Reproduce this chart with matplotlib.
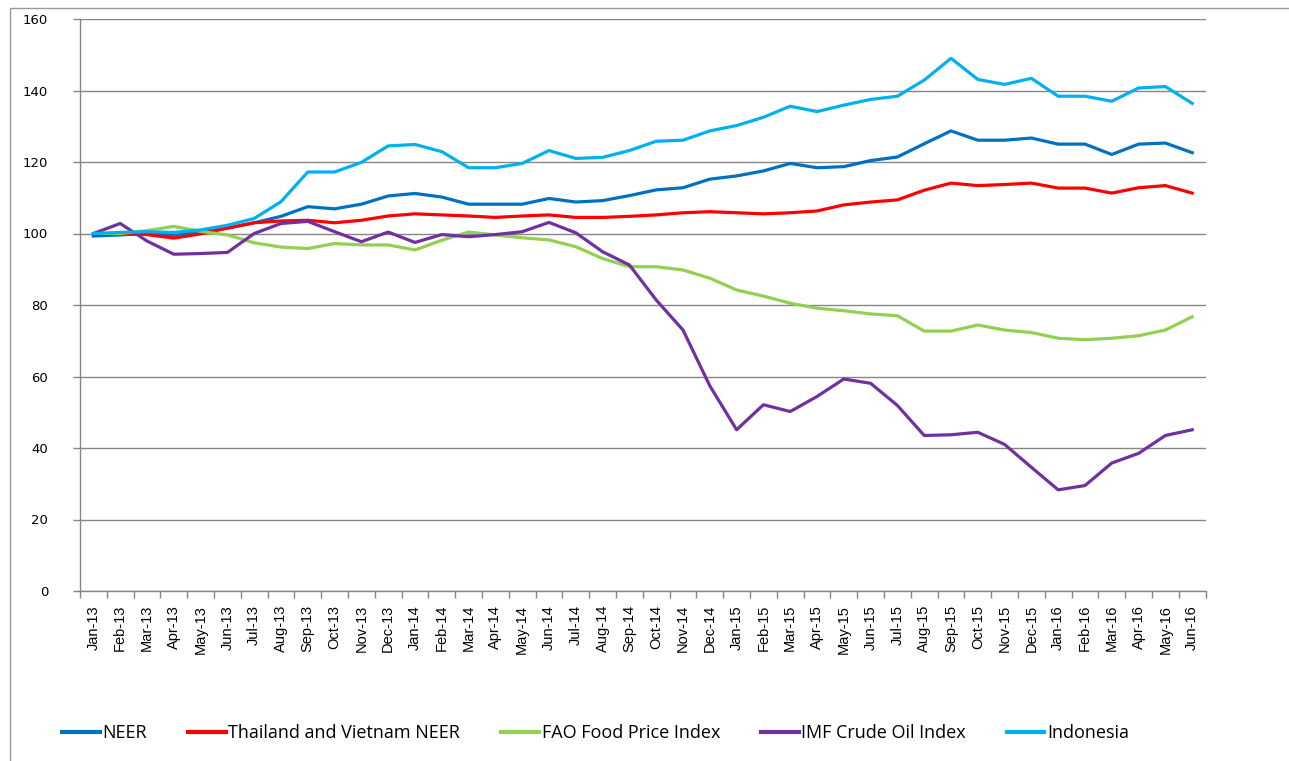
import matplotlib
matplotlib.use("Agg")
import matplotlib.pyplot as plt
from matplotlib.patches import Rectangle
import numpy as np

months = ["Jan-13", "Feb-13", "Mar-13", "Apr-13", "May-13", "Jun-13", "Jul-13", "Aug-13",
          "Sep-13", "Oct-13", "Nov-13", "Dec-13", "Jan-14", "Feb-14", "Mar-14", "Apr-14",
          "May-14", "Jun-14", "Jul-14", "Aug-14", "Sep-14", "Oct-14", "Nov-14", "Dec-14",
          "Jan-15", "Feb-15", "Mar-15", "Apr-15", "May-15", "Jun-15", "Jul-15", "Aug-15",
          "Sep-15", "Oct-15", "Nov-15", "Dec-15", "Jan-16", "Feb-16", "Mar-16", "Apr-16",
          "May-16", "Jun-16"]

neer = [99.3, 99.6, 100.0, 99.5, 100.5, 101.5, 103.0, 104.8, 107.5, 106.9, 108.2, 110.5,
        111.2, 110.2, 108.2, 108.2, 108.2, 109.8, 108.8, 109.2, 110.6, 112.2, 112.8, 115.2,
        116.1, 117.5, 119.6, 118.4, 118.7, 120.4, 121.4, 125.1, 128.7, 126.1, 126.1, 126.7,
        125.0, 125.0, 122.1, 125.0, 125.3, 122.6]

thai_viet = [99.7, 100.0, 99.7, 98.7, 99.9, 101.5, 103.0, 103.5, 103.7, 103.0, 103.7, 104.9,
             105.5, 105.2, 104.9, 104.5, 104.9, 105.2, 104.5, 104.5, 104.8, 105.2, 105.8, 106.1,
             105.8, 105.5, 105.8, 106.3, 108.0, 108.8, 109.4, 112.1, 114.1, 113.4, 113.7, 114.1,
             112.7, 112.7, 111.3, 112.8, 113.4, 111.3]

fao_food = [100.0, 100.0, 100.8, 102.0, 100.6, 99.6, 97.4, 96.2, 95.8, 97.2, 96.8, 96.8,
            95.4, 98.1, 100.4, 99.6, 98.8, 98.2, 96.3, 93.0, 90.7, 90.7, 89.8, 87.5,
            84.2, 82.5, 80.5, 79.1, 78.4, 77.5, 77.0, 72.7, 72.7, 74.4, 73.0, 72.3,
            70.7, 70.3, 70.7, 71.4, 73.0, 76.7]

imf_oil = [100.0, 102.8, 97.9, 94.2, 94.4, 94.7, 100.0, 102.8, 103.4, 100.5, 97.7, 100.4,
           97.5, 99.7, 99.1, 99.7, 100.5, 103.1, 100.2, 94.9, 91.2, 81.4, 73.0, 57.4,
           45.1, 52.1, 50.2, 54.4, 59.3, 58.1, 51.9, 43.5, 43.7, 44.4, 41.0, 34.6,
           28.3, 29.5, 35.8, 38.5, 43.5, 45.1]

indonesia = [100.0, 100.3, 100.5, 100.3, 101.0, 102.3, 104.2, 108.9, 117.2, 117.2, 119.9, 124.5,
             124.9, 122.9, 118.4, 118.4, 119.6, 123.2, 121.0, 121.3, 123.2, 125.8, 126.1, 128.7,
             130.2, 132.5, 135.6, 134.1, 135.9, 137.5, 138.4, 142.9, 149.0, 143.1, 141.7, 143.4,
             138.4, 138.4, 137.0, 140.7, 141.1, 136.4]

series_names = ["NEER", "Thailand and Vietnam NEER", "FAO Food Price Index",
                "IMF Crude Oil Index", "Indonesia"]
series_vals = [neer, thai_viet, fao_food, imf_oil, indonesia]
series_colors = ["#0070C0", "#FF0000", "#92D050", "#7030A0", "#00B0F0"]

yticks = [0, 20, 40, 60, 80, 100, 120, 140, 160]

W, H = 1289, 761
fig = plt.figure(figsize=(W / 100, H / 100), dpi=100)

# outer chart frame
fig.patches.append(Rectangle((10 / W, -0.1), 1.2, 1 - 8 / H + 0.1, transform=fig.transFigure,
                             fill=False, edgecolor="#9a9a9a", linewidth=1.0))

ax = fig.add_axes([80 / W, 1 - 591 / H, (1205.6 - 80) / W, (591 - 19) / H])

x = np.arange(len(months))
for name, vals, col in zip(series_names, series_vals, series_colors):
    ax.plot(x, vals, color=col, linewidth=2.3, label=name, solid_joinstyle="round")

ax.set_xlim(-0.5, len(months) - 0.5)
ax.set_ylim(0, 160)
ax.set_yticks(yticks)
ax.set_yticklabels([str(v) for v in yticks], fontsize=9.5, family=["DejaVu Sans"])
ax.yaxis.grid(True, color="#868686", linewidth=1.0)
ax.set_axisbelow(True)

ax.set_xticks(x)
ax.set_xticklabels(months, rotation=90, fontsize=10.5,
                   family=["Liberation Sans Narrow", "Liberation Sans", "DejaVu Sans"])
ax.set_xticks(np.arange(len(months) + 1) - 0.5, minor=True)
ax.tick_params(axis="x", which="major", length=0, pad=10)
ax.tick_params(axis="x", which="minor", length=5, color="#868686", width=1)
ax.tick_params(axis="y", length=5, color="#868686", width=1, pad=18)

for s in ["top", "right"]:
    ax.spines[s].set_visible(False)
for s in ["left", "bottom"]:
    ax.spines[s].set_color("#868686")
    ax.spines[s].set_linewidth(1.0)

leg = fig.legend(loc="center left", bbox_to_anchor=(62 / W, 1 - 733 / H), ncol=5,
                 frameon=False, handlelength=2.1, handletextpad=0.15,
                 columnspacing=2.25, borderaxespad=0, borderpad=0,
                 prop={"family": ["Open Sans", "DejaVu Sans"], "size": 13})
for line in leg.get_lines():
    line.set_linewidth(3)

fig.savefig("out.png", dpi=100)
